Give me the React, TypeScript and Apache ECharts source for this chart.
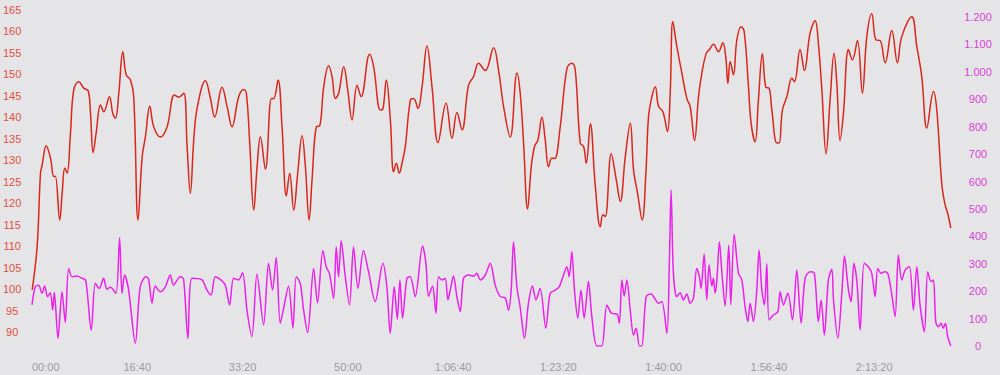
import React, { useEffect, useRef } from "react";
import * as echarts from "echarts";

// Heart rate (bpm) trace: time in seconds, value
const hrTime = [0,47,79,95,133,174,205,220,262,285,310,332,364,395,443,490,532,554,579,608,649,680,734,766,791,823,861,893,934,965,1006,1045,1076,1117,1155,1218,1282,1351,1392,1440,1472,1503,1535,1567,1646,1693,1734,1804,1852,1899,1962,2010,2035,2067,2105,2137,2168,2216,2273,2294,2336,2374,2415,2447,2485,2523,2564,2596,2631,2659,2700,2732,2770,2817,2849,2881,2912,2960,2998,3039,3087,3125,3206,3244,3308,3333,3365,3403,3434,3460,3488,3514,3545,3593,3624,3666,3704,3751,3799,3856,3932,3989,4036,4084,4146,4194,4241,4305,4384,4431,4479,4542,4606,4637,4669,4707,4742,4773,4805,4843,4875,4906,4938,4964,5017,5081,5128,5160,5207,5239,5265,5303,5351,5398,5423,5445,5502,5550,5588,5635,5683,5714,5752,5796,5831,5856,5888,5920,5951,5993,6036,6062,6087,6125,6173,6220,6252,6293,6331,6363,6404,6435,6473,6521,6562,6591,6610,6632,6663,6695,6736,6765,6806,6831,6869,6900,6938,6971,7002,7028,7075,7097,7128,7170,7218,7243,7296,7337,7391,7439,7470,7503,7543,7581,7619,7645,7676,7708,7756,7793,7841,7888,7930,7977,8018,8056,8104,8167,8221,8262,8357,8405,8452,8500,8563,8595,8642,8674,8699,8728];
const hrValue = [99.8,109.9,127,128.9,133.4,130.5,126.2,126.3,116.1,122.4,128.2,127,136.4,146.4,148.3,146.8,146.2,141,131.8,136.4,142.9,141.3,144.8,140.9,139.8,145.6,155.3,149.9,148.7,144.8,116.1,130.8,135.5,142.6,137.8,135.4,137.8,145.2,144.7,145.6,133.2,122.3,134.7,142.1,148.5,144.5,140.1,147,142.5,137.8,144.8,146.5,145.6,134,118.4,128.5,135.5,127.9,144.4,144.3,148.7,137.8,121.7,127,118.4,127,135.7,128.5,116.1,125.4,137.8,138,147.1,152,149.5,144.4,145.6,151.8,146.4,139.4,147.5,144.8,154.7,151.8,141.7,142,148.7,139.4,127.3,129.3,127,129.3,133.2,144,144.4,142.1,147.1,156.6,147.1,134.1,143.3,135.1,141.1,137.1,147.5,149.5,152.6,150.9,156.2,151,142.5,135.4,150.3,145.6,134,118.6,128.5,133.2,134.7,140,134.7,128.5,130.5,130.4,137.8,151.4,152.6,151,134,133.2,129.3,138.5,123.8,114.5,117.3,116.9,131.5,125.4,120.4,130.8,138.6,127.7,122.3,116.1,127,140.1,144.8,147.1,142.6,141.3,136.7,145.6,162.3,156.5,150.3,144.4,142.5,134.6,144.8,150.3,154.9,155.8,157,155.3,157.4,153.7,147.9,153,149.9,158,161.1,160,147.1,138.6,134.3,144,154.8,147,146.8,141.7,134,134,141.7,144.8,149.1,148.3,155.8,150.9,159.6,162.5,157.2,146.4,131.5,144,154.9,147.9,134.6,140.9,155.8,153.4,157.9,145.6,158.8,164.1,158,157.9,152.7,160.2,152.7,158.8,163.4,156.5,149.5,137.5,146,141.7,124.6,119.6,117.6,114.2];

// Power (W) trace: time in seconds, value
const pwTime = [0,31,63,95,120,148,174,196,212,247,285,316,348,380,427,475,510,563,601,639,680,712,744,797,832,855,880,918,981,1028,1083,1108,1140,1171,1218,1266,1313,1345,1408,1440,1481,1519,1614,1662,1700,1741,1788,1836,1877,1915,1962,2000,2042,2089,2137,2200,2247,2285,2320,2358,2390,2437,2479,2510,2548,2580,2618,2675,2712,2763,2795,2826,2865,2890,2912,2937,2976,3016,3054,3096,3149,3197,3260,3333,3371,3403,3441,3470,3495,3520,3561,3593,3640,3710,3742,3767,3805,3837,3862,3894,3925,3951,3973,4004,4036,4068,4099,4146,4194,4226,4258,4305,4353,4400,4448,4495,4526,4552,4574,4606,4637,4678,4716,4754,4787,4827,4881,4922,4970,5008,5049,5081,5103,5128,5153,5185,5215,5245,5286,5318,5366,5413,5461,5508,5556,5580,5603,5626,5651,5683,5714,5739,5771,5793,5834,5881,5920,5951,5983,6031,6055,6071,6093,6125,6157,6188,6220,6252,6283,6315,6340,6356,6385,6410,6432,6458,6473,6489,6505,6530,6553,6584,6619,6638,6670,6711,6743,6774,6800,6822,6853,6885,6907,6933,6958,6980,7002,7043,7085,7107,7138,7180,7224,7265,7306,7344,7391,7432,7470,7496,7527,7565,7598,7614,7655,7693,7718,7756,7781,7807,7835,7867,7905,7945,7977,8009,8034,8066,8098,8129,8161,8199,8230,8262,8294,8335,8373,8405,8436,8477,8509,8541,8563,8585,8610,8636,8655,8677,8699,8728];
const pwValue = [150,216,222,192,219,180,194,131,195,28,198,85,283,253,255,247,240,58,229,210,247,207,214,192,395,192,259,204,10,216,253,244,156,219,198,216,259,222,253,244,28,247,241,204,186,253,243,222,150,247,241,267,131,34,263,77,302,204,323,83,137,219,65,253,229,131,49,283,158,348,289,263,174,362,253,384,253,150,362,210,348,271,162,302,216,46,216,98,241,101,247,253,180,365,302,182,219,119,253,241,247,168,204,255,180,125,247,259,255,265,241,259,302,222,180,176,131,204,380,216,143,28,156,219,168,210,65,192,204,216,259,289,253,344,204,101,204,101,235,107,0,0,150,119,117,83,241,182,241,131,40,65,0,0,180,190,170,156,162,46,314,569,265,180,194,168,190,156,174,283,253,210,336,168,295,219,247,194,235,380,271,146,368,150,408,265,241,143,89,156,89,204,350,204,150,300,95,113,125,198,150,192,95,277,83,247,271,265,89,168,40,241,280,168,28,192,328,204,162,302,241,58,302,289,265,180,283,265,271,265,204,107,332,241,277,289,131,289,150,52,271,235,241,89,70,83,65,83,34,0];

const endTime = 8730;
const hrMin = 90;
const hrMax = 165;
const pwMin = 0;
const pwMax = 1200;

function fmtTime(v: number): string {
  const s = Math.round(v);
  const h = Math.floor(s / 3600);
  const m = Math.floor((s % 3600) / 60);
  const sec = s % 60;
  const mm = String(m).padStart(2, "0");
  const ss = String(sec).padStart(2, "0");
  return h > 0 ? `${h}:${mm}:${ss}` : `${mm}:${ss}`;
}

function fmtPower(v: number): string {
  if (v >= 1000) {
    return `${Math.floor(v / 1000)}.${String(v % 1000).padStart(3, "0")}`;
  }
  return String(v);
}

export default function App() {
  const ref = useRef<HTMLDivElement>(null);
  useEffect(() => {
    if (!ref.current) return;
    const chart = echarts.init(ref.current, null, { renderer: "svg" });
    const font = "'Liberation Sans', Arial, Helvetica, sans-serif";
    const hrData = hrTime.map((t, i) => [t, hrValue[i]]);
    const pwData = pwTime.map((t, i) => [t, pwValue[i]]);
    chart.setOption({
      animation: false,
      backgroundColor: "#e5e5e7",
      grid: [
        { left: 32, right: 49, top: 10, height: 322 },
        { left: 32, right: 49, top: 17, height: 329 },
      ],
      xAxis: [
        {
          type: "value", gridIndex: 0, min: 0, max: endTime, interval: 1000,
          show: false,
        },
        {
          type: "value", gridIndex: 1, min: 0, max: endTime, interval: 1000,
          axisLine: { show: false }, axisTick: { show: false }, splitLine: { show: false },
          axisLabel: {
            formatter: fmtTime, color: "#9b9b9d", fontSize: 11, fontFamily: font,
            margin: 15, showMaxLabel: false, alignMinLabel: "left",
          },
        },
      ],
      yAxis: [
        {
          type: "value", gridIndex: 0, position: "left", min: hrMin, max: hrMax, interval: 5,
          axisLine: { show: false }, axisTick: { show: false }, splitLine: { show: false },
          axisLabel: { color: "#e0503c", fontSize: 11, fontFamily: font, align: "center", margin: 20 },
        },
        {
          type: "value", gridIndex: 1, position: "right", min: pwMin, max: pwMax, interval: 100,
          axisLine: { show: false }, axisTick: { show: false }, splitLine: { show: false },
          axisLabel: { color: "#d83ed8", fontSize: 11, fontFamily: font, align: "center", margin: 27, formatter: fmtPower },
        },
      ],
      series: [
        {
          type: "line", xAxisIndex: 1, yAxisIndex: 1, data: pwData, smooth: 0.3,
          showSymbol: false, symbol: "none",
          lineStyle: { color: "#ea22ea", width: 1.5 },
        },
        {
          type: "line", xAxisIndex: 0, yAxisIndex: 0, data: hrData, smooth: 0.4,
          showSymbol: false, symbol: "none",
          lineStyle: { color: "#d8271c", width: 1.5 },
        },
      ],
    });
    return () => chart.dispose();
  }, []);
  return (
    <div
      ref={ref}
      style={{ position: "fixed", left: 0, top: 0, width: 1000, height: 375, background: "#e5e5e7" }}
    />
  );
}
